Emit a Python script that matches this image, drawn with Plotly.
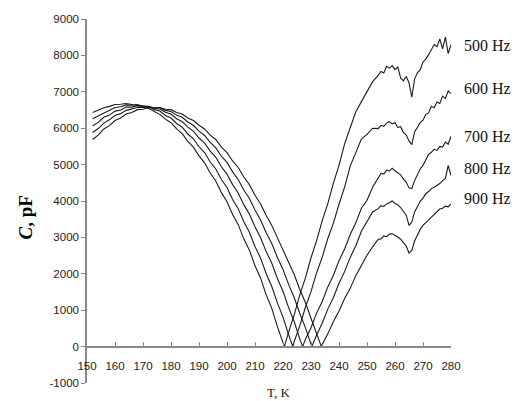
import plotly.graph_objects as go

# Temperature grid (K) shared by all curves
T_grid = list(range(152, 256, 2)) + list(range(255, 281))

# Temperature where each curve touches zero
zero_T = [220.5, 223.5, 227.0, 230.3, 233.7]

freq_labels = ["500 Hz", "600 Hz", "700 Hz", "800 Hz", "900 Hz"]

C_500 = [6430, 6500, 6560, 6600, 6650, 6660, 6680, 6650, 6630, 6590, 6540, 6450, 6380, 6250, 6150,
         5980, 5850, 5640, 5480, 5240, 5050, 4770, 4550, 4230, 3980, 3630, 3350, 2960, 2650, 2220,
         1880, 1420, 1050, 550, 130, 400, 870, 1420, 1890, 2440, 2910, 3460, 3930, 4490, 4980,
         5570, 5990, 6450, 6730, 6990, 7280, 7450,
         7560, 7520, 7700, 7650, 7720, 7610, 7680, 7380, 7300, 7420, 7250, 6850, 7350, 7520, 7600,
         7820, 7900, 8020, 8150, 8300, 8240, 8450, 8180, 8500, 8050, 8300]

C_600 = [6260, 6340, 6430, 6490, 6570, 6590, 6640, 6630, 6650, 6600, 6590, 6510, 6470, 6350, 6280,
         6130, 6030, 5840, 5710, 5490, 5330, 5070, 4880, 4590, 4370, 4040, 3790, 3430, 3140, 2750,
         2430, 2000, 1650, 1200, 810, 330, 140, 570, 1080, 1510, 2030, 2450, 2970, 3390, 3910,
         4380, 4960, 5320, 5700, 5830, 6000, 5990,
         6080, 6050, 6140, 6180, 6120, 6150, 6020, 6040, 5880, 5820, 5650, 5550, 5900, 6020, 6160,
         6220, 6380, 6420, 6600, 6560, 6720, 6680, 6880, 6820, 7020, 6950]

C_700 = [6060, 6160, 6300, 6360, 6470, 6500, 6580, 6580, 6620, 6600, 6600, 6550, 6530, 6440, 6390,
         6260, 6180, 6030, 5920, 5730, 5590, 5370, 5200, 4940, 4740, 4450, 4220, 3900, 3640, 3290,
         2990, 2610, 2290, 1870, 1520, 1070, 690, 210, 200, 520, 920, 1240, 1640, 1960, 2360,
         2680, 3080, 3400, 3800, 4020, 4380, 4620,
         4760, 4740, 4850, 4820, 4900, 4830, 4780, 4720, 4600, 4520, 4360, 4340, 4560, 4720, 4880,
         4980, 5150, 5280, 5340, 5420, 5390, 5500, 5480, 5620, 5560, 5780]

C_800 = [5880, 5990, 6140, 6230, 6350, 6400, 6490, 6520, 6570, 6570, 6590, 6560, 6560, 6490, 6460,
         6360, 6300, 6170, 6080, 5920, 5800, 5610, 5460, 5230, 5060, 4800, 4590, 4300, 4070, 3750,
         3480, 3130, 2830, 2450, 2120, 1710, 1350, 910, 520, 60, 320, 640, 1030, 1350, 1740,
         2060, 2450, 2770, 3170, 3420, 3700, 3790,
         3870, 3850, 3920, 3950, 4000, 3930, 3900, 3820, 3700, 3610, 3330, 3420, 3700, 3860, 3990,
         4080, 4200, 4260, 4340, 4380, 4420, 4480, 4560, 4620, 4980, 4700]

C_900 = [5690, 5810, 5980, 6070, 6210, 6280, 6390, 6430, 6510, 6520, 6570, 6550, 6570, 6520, 6510,
         6430, 6390, 6280, 6210, 6080, 5980, 5810, 5690, 5480, 5330, 5100, 4920, 4660, 4450, 4160,
         3920, 3600, 3330, 2980, 2680, 2300, 1980, 1570, 1210, 780, 380, 60, 350, 690, 980,
         1320, 1600, 1950, 2230, 2510, 2740, 2950,
         2960, 3040, 3020, 3090, 3100, 3060, 3010, 2950, 2850, 2760, 2570, 2640, 2900, 3080, 3220,
         3330, 3420, 3480, 3560, 3640, 3700, 3780, 3800, 3860, 3840, 3920]

label_C = [8280, 7100, 5780, 4900, 4060]

x_ticks = list(range(150, 281, 10))
y_ticks = list(range(-1000, 9001, 1000))
y_ticktext = ["-1000", "0", "1000", "2000", "3000", "4000", "5000", "6000", "7000", "8000", "9000"]

series = [C_500, C_600, C_700, C_800, C_900]

fig = go.Figure()
for vals, t0 in zip(series, zero_T):
    pts = sorted(list(zip(T_grid, vals)) + [(t0, 0)])
    fig.add_trace(go.Scatter(
        x=[p[0] for p in pts], y=[p[1] for p in pts],
        mode="lines", line=dict(color="#1a1a1a", width=1.1),
        showlegend=False, hoverinfo="skip"))

for lab, yc in zip(freq_labels, label_C):
    fig.add_annotation(x=1.03, xref="paper", y=yc, yref="y", text=lab,
                       showarrow=False, xanchor="left", yanchor="middle",
                       font=dict(family="Liberation Serif", size=16, color="#111"))

fig.add_annotation(x=-0.17, xref="paper", y=0.455, yref="paper",
                   text="<b><i>C</i>, pF</b>", textangle=-90, showarrow=False,
                   xanchor="center", yanchor="middle",
                   font=dict(family="Liberation Serif", size=19, color="#000"))

fig.add_annotation(x=0.525, xref="paper", y=-0.026, yref="paper",
                   text="T, K", showarrow=False, xanchor="center", yanchor="middle",
                   font=dict(family="Liberation Serif", size=13, color="#222"))

fig.update_xaxes(range=[150, 280], anchor="free", position=0.1,
                 showline=True, linecolor="#8a8a8a", linewidth=1.5,
                 ticks="inside", ticklen=4, tickcolor="#8a8a8a",
                 tickvals=x_ticks, showgrid=False, zeroline=False,
                 ticklabelstandoff=9,
                 tickfont=dict(family="Liberation Sans", size=11.5, color="#222"))
fig.update_yaxes(range=[-1000, 9000], domain=[0, 1],
                 showline=True, linecolor="#8a8a8a", linewidth=1.5,
                 ticks="outside", ticklen=4, tickcolor="#8a8a8a",
                 tickvals=y_ticks, ticktext=y_ticktext, showgrid=False, zeroline=False,
                 tickfont=dict(family="Liberation Sans", size=11.5, color="#222"))

fig.update_layout(width=516, height=401, margin=dict(l=87, r=65, t=19, b=15),
                  plot_bgcolor="white", paper_bgcolor="white")

fig.write_html("out.html")
